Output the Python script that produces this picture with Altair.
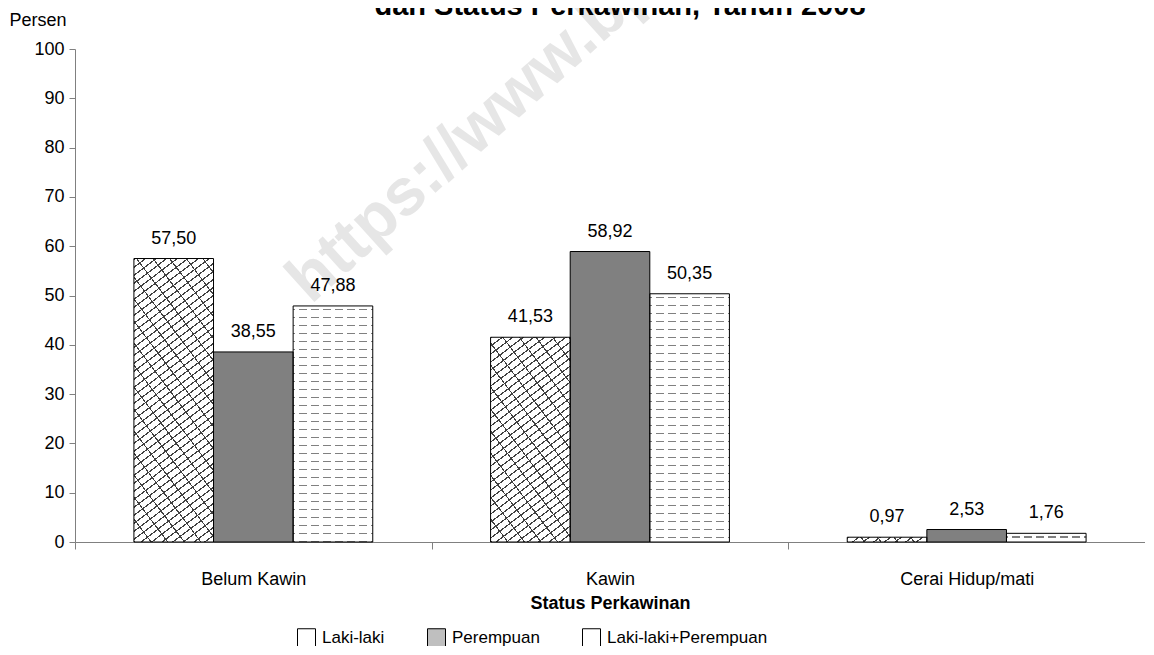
import math
import altair as alt
import pandas as pd

# ---------------- data ----------------
categories = ["Belum Kawin", "Kawin", "Cerai Hidup/mati"]
series = ["Laki-laki", "Perempuan", "Laki-laki+Perempuan"]
laki_laki = [57.50, 41.53, 0.97]
perempuan = [38.55, 58.92, 2.53]
laki_perempuan = [47.88, 50.35, 1.76]
y_ticks = [0, 10, 20, 30, 40, 50, 60, 70, 80, 90, 100]
title_text = "dan Status Perkawinan, Tahun 2008"
watermark_text = "https://www.bps.go.id"

values = {"Laki-laki": laki_laki, "Perempuan": perempuan,
          "Laki-laki+Perempuan": laki_perempuan}
rows = []
for i, c in enumerate(categories):
    for s in series:
        v = values[s][i]
        rows.append({"status": c, "jk": s, "persen": v,
                     "label": f"{v:.2f}".replace(".", ",")})
df = pd.DataFrame(rows)

# ---------------- geometry / style ----------------
FONT = "Liberation Sans"
W, H = 1070, 493
PAD_OUT = 0.74
BAR_W = W / 3 / (3 + 2 * PAD_OUT)


def r(x):
    return round(x, 5)


def stripe_stops(length, period, thick, fg, bg, phase=0.0):
    pts = [(0.0, bg)]
    c = phase - period
    while c < length:
        a = max(c, 0.0)
        b = min(c + thick, length)
        if b > a:
            pts += [(a, bg), (a, fg), (b, fg), (b, bg)]
        c += period
    pts.append((length, bg))
    return [alt.GradientStop(offset=r(min(o / length, 1.0)), color=col) for o, col in pts]


def diag_up(w, h, deg, period, thick, fg, bg):
    """'/' stripes rising at `deg` degrees; period measured vertically."""
    a = math.tan(math.radians(deg))
    m = (w * a + h) / (w * w * a * a + h * h)
    return alt.LinearGradient(gradient="linear", x1=0, y1=0, x2=r(m * w * a), y2=r(m * h),
                              stops=stripe_stops(w * a + h, period, thick, fg, bg))


def diag_down(w, h, deg, period, thick, fg, bg):
    """'\\' stripes falling at `deg` degrees; period measured vertically."""
    a = math.tan(math.radians(deg))
    m = (w * a + h) / (w * w * a * a + h * h)
    return alt.LinearGradient(gradient="linear", x1=0, y1=1, x2=r(m * w * a), y2=r(1 - m * h),
                              stops=stripe_stops(w * a + h, period, thick, fg, bg))


def horiz(h, period, thick, fg, bg, phase=0.0):
    return alt.LinearGradient(gradient="linear", x1=0, y1=0, x2=0, y2=1,
                              stops=stripe_stops(h, period, thick, fg, bg, phase))


def vert(w, period, thick, fg, bg, phase=0.0):
    return alt.LinearGradient(gradient="linear", x1=0, y1=0, x2=1, y2=0,
                              stops=stripe_stops(w, period, thick, fg, bg, phase))


CLEAR = "rgba(255,255,255,0)"
HATCH = "#404040"
DASH = "#808080"

x_axis = alt.Axis(tickBand="extent", tickSize=7, labelPadding=21, labelFontSize=18,
                  labelAngle=0, labelColor="black", domainColor="#808080",
                  tickColor="#808080", title="Status Perkawinan", titleFontSize=18,
                  titleFontWeight="bold", titlePadding=6, titleColor="black")
y_axis = alt.Axis(values=y_ticks, format="d", tickSize=6, labelPadding=5, labelFontSize=18,
                  labelColor="black", domainColor="#808080", tickColor="#808080",
                  grid=False, title="Persen", titleAngle=0, titleX=-66, titleY=-29,
                  titleAlign="left", titleBaseline="middle", titleFontWeight="normal",
                  titleFontSize=18, titleColor="black")

enc = dict(
    x=alt.X("status:N", sort=categories,
            scale=alt.Scale(domain=categories, paddingInner=0, paddingOuter=0),
            axis=x_axis),
    xOffset=alt.XOffset("jk:N", sort=series,
                        scale=alt.Scale(domain=series, paddingInner=0, paddingOuter=PAD_OUT)),
    y=alt.Y("persen:Q", scale=alt.Scale(domain=[0, 100], nice=False, zero=True),
            axis=y_axis),
)

LS = 18
legend = alt.Legend(orient="none", legendX=222, legendY=579, direction="horizontal",
                    title=None, symbolType="square", symbolSize=LS * LS,
                    symbolStrokeColor="black", symbolStrokeWidth=1, symbolOpacity=1,
                    labelFontSize=17, labelOffset=6, columnPadding=40, padding=0,
                    labelColor="black", labelLimit=400)

base = alt.Chart(df).mark_bar(strokeWidth=0).encode(
    **enc,
    color=alt.Color("jk:N", sort=series,
                    scale=alt.Scale(domain=series, range=["#ffffff", "#bfbfbf", "#ffffff"]),
                    legend=legend),
)

pattern_layers = []
for i, c in enumerate(categories):
    for s in series:
        h = values[s][i] * H / 100.0
        if s == "Laki-laki":
            grads = [diag_up(BAR_W, h, 37, 8, 1.5, HATCH, "#ffffff"),
                     diag_down(BAR_W, h, 53, 22, 1.8, HATCH, CLEAR)]
        elif s == "Laki-laki+Perempuan":
            grads = [horiz(h, 8, 1.3, DASH, "#ffffff", 3),
                     vert(BAR_W, 12, 4, "#ffffff", CLEAR, 2)]
        else:
            grads = ["#808080"]
        for g in grads:
            pattern_layers.append(
                alt.Chart(df)
                .transform_filter(alt.datum.status == c)
                .transform_filter(alt.datum.jk == s)
                .mark_bar(fill=g, strokeWidth=0)
                .encode(**enc)
            )

outline = alt.Chart(df).mark_bar(fillOpacity=0, stroke="black", strokeWidth=1).encode(**enc)

labels = alt.Chart(df).mark_text(dy=-20, baseline="middle", fontSize=18, font=FONT,
                                 color="black").encode(**enc, text="label:N")

one = alt.Data(values=[{}])
watermark = alt.Chart(one).mark_text(
    text=watermark_text, angle=318, align="left", baseline="alphabetic",
    fontSize=66, fontWeight="bold", font=FONT, color="#e6e6e6"
).encode(x=alt.value(236), y=alt.value(256))

title = alt.Chart(one).mark_text(
    text=title_text, align="center", baseline="alphabetic", fontSize=29,
    fontWeight="bold", font=FONT, color="black"
).encode(x=alt.value(545), y=alt.value(-34))

chart = alt.layer(watermark, base, *pattern_layers, outline, labels, title).properties(
    width=W, height=H,
    padding={"left": 67, "top": 41, "right": 0, "bottom": 104},
    autosize=alt.AutoSizeParams(type="none"),
).configure_view(stroke=None).configure_axis(
    labelFont=FONT, titleFont=FONT
).configure_legend(labelFont=FONT)

chart.save("out.html", embed_options={"renderer": "svg", "actions": False})
